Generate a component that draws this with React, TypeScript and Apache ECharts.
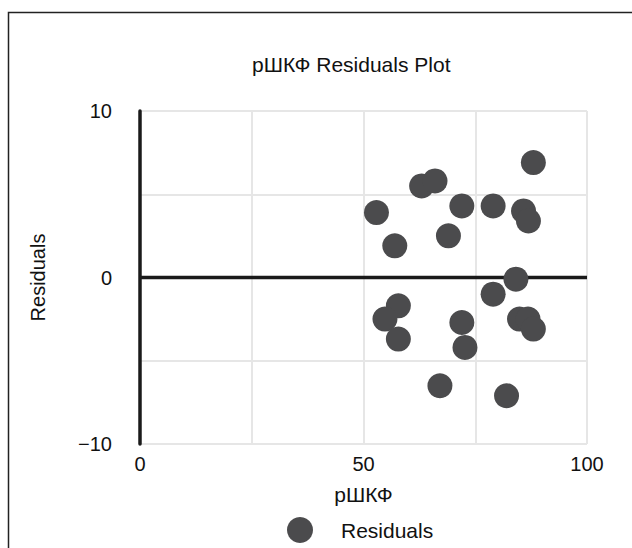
import React, { useEffect, useRef } from "react";
import * as echarts from "echarts";

const titleText = "pШКФ Residuals Plot";
const xName = "pШКФ";
const yName = "Residuals";
const seriesName = "Residuals";
const xValues = [88.0, 63.0, 66.0, 52.9, 72.0, 79.0, 85.8, 86.9, 57.0, 69.0, 84.1, 79.0, 57.8, 54.8, 57.8, 72.0, 72.7, 67.1, 82.0, 84.9, 86.8, 88.0];
const yValues = [6.9, 5.5, 5.8, 3.9, 4.3, 4.3, 4.0, 3.4, 1.9, 2.5, -0.1, -1.0, -1.7, -2.5, -3.7, -2.7, -4.2, -6.5, -7.1, -2.5, -2.5, -3.1];
const zeroLine = [[0, 0], [100, 0]];

const FONT = "'Liberation Sans', Arial, sans-serif";

export default function App() {
  const ref = useRef<HTMLDivElement>(null);
  useEffect(() => {
    if (!ref.current) return;
    const chart = echarts.init(ref.current, null, { renderer: "svg" });
    const points = xValues.map((x, i) => [x, yValues[i]]);
    chart.setOption({
      animation: false,
      backgroundColor: "#ffffff",
      textStyle: { fontFamily: FONT },
      title: {
        text: titleText,
        left: 247,
        top: 49,
        textStyle: { fontSize: 21, fontWeight: "normal", color: "#111", fontFamily: FONT },
      },
      graphic: [
        {
          type: "rect",
          shape: { x: 8.5, y: 12.5, width: 700, height: 600 },
          style: { fill: "none", stroke: "#222", lineWidth: 1.5 },
          silent: true,
        },
      ],
      legend: {
        data: [seriesName],
        left: 282,
        top: 512,
        itemWidth: 26,
        itemHeight: 26,
        icon: "circle",
        textStyle: { fontSize: 21, color: "#111", fontFamily: FONT, padding: [0, 0, 0, 23] },
      },
      grid: { left: 140, right: 45, top: 111, bottom: 104 },
      xAxis: {
        type: "value",
        min: 0,
        max: 100,
        interval: 25,
        name: xName,
        nameLocation: "middle",
        nameGap: 40,
        nameTextStyle: { fontSize: 21, color: "#111", fontFamily: FONT },
        axisLine: { show: false },
        axisTick: { show: false },
        axisLabel: {
          fontSize: 20,
          color: "#111",
          margin: 10,
          fontFamily: FONT,
          formatter: (v: number) => (v % 50 === 0 ? String(v) : ""),
        },
        splitLine: { show: true, lineStyle: { color: "#e6e6e6", width: 2 } },
      },
      yAxis: {
        type: "value",
        min: -10,
        max: 10,
        interval: 5,
        name: yName,
        nameLocation: "middle",
        nameGap: 92,
        nameTextStyle: { fontSize: 20, color: "#111", fontFamily: FONT },
        axisLine: { show: true, lineStyle: { color: "#1a1a1a", width: 3.5 } },
        axisTick: { show: false },
        axisLabel: {
          fontSize: 20,
          color: "#111",
          margin: 28,
          fontFamily: FONT,
          formatter: (v: number) => (v % 10 === 0 ? (v < 0 ? "\u2212" + Math.abs(v) : String(v)) : ""),
        },
        splitLine: { show: true, lineStyle: { color: "#e6e6e6", width: 2 } },
      },
      series: [
        {
          type: "line",
          name: "zero",
          data: zeroLine,
          symbol: "none",
          silent: true,
          z: 1,
          lineStyle: { color: "#1a1a1a", width: 3.5 },
        },
        {
          type: "scatter",
          name: seriesName,
          data: points,
          symbolSize: 25,
          z: 3,
          itemStyle: { color: "#4b4b4d", opacity: 1 },
        },
      ],
    });
    return () => chart.dispose();
  }, []);
  return (
    <div
      ref={ref}
      style={{ position: "fixed", left: 0, top: 0, width: 632, height: 548 }}
    />
  );
}
